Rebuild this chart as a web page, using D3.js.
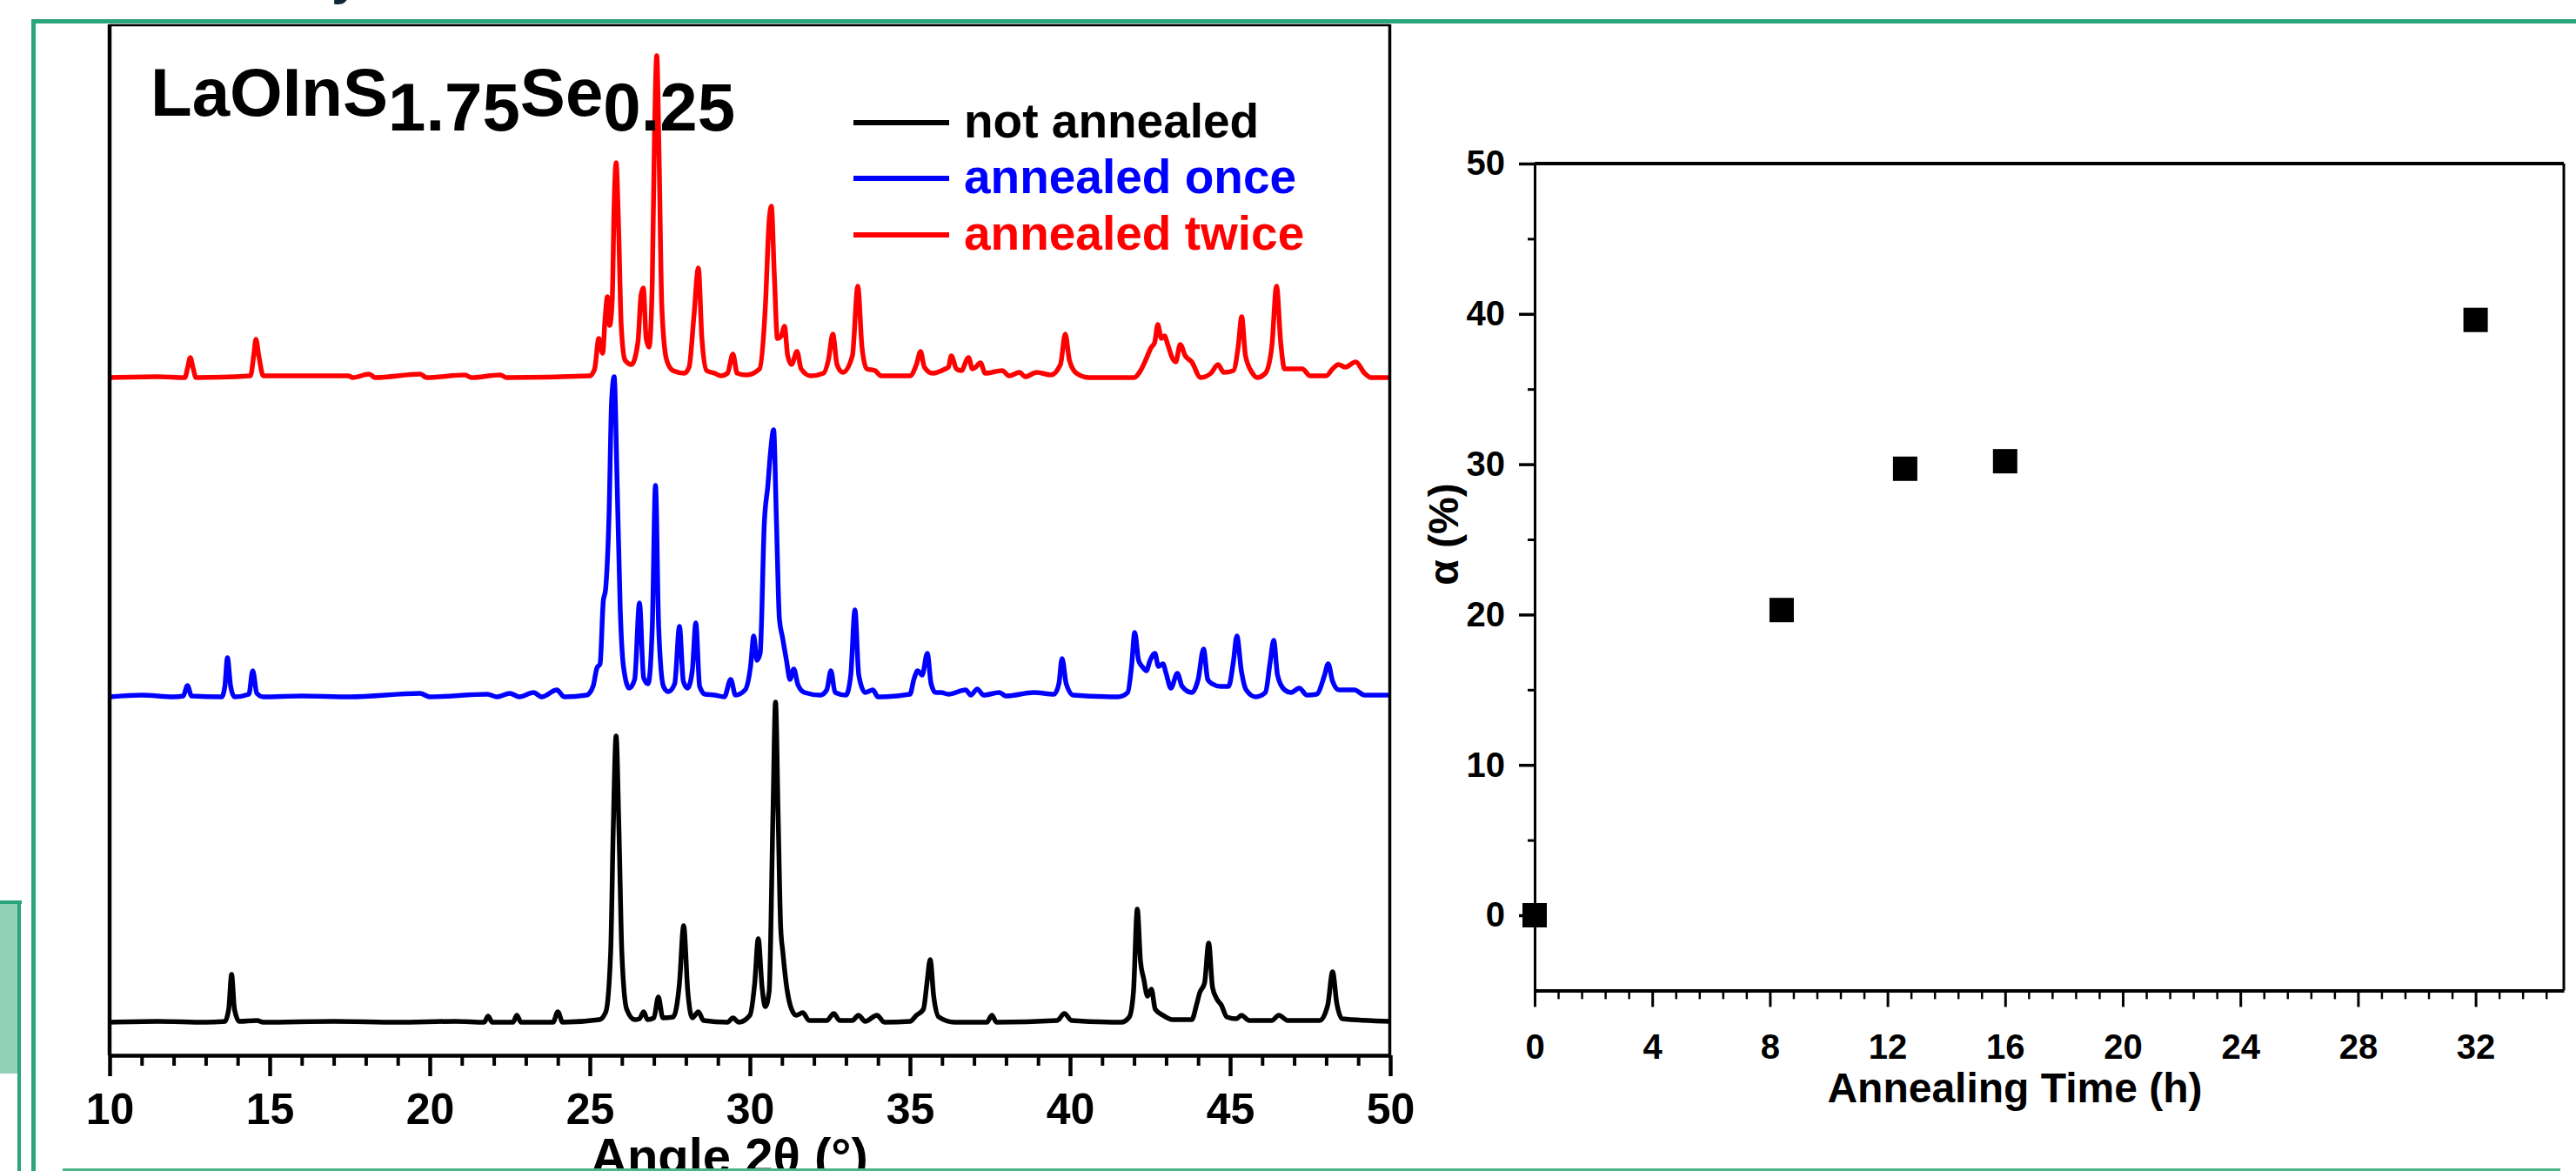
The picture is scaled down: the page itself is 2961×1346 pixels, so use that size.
<!DOCTYPE html>
<html>
<head>
<meta charset="utf-8">
<script src="https://cdn.jsdelivr.net/npm/d3@7"></script>
<style>
body { margin: 0; background: #fff; }
svg { display: block; font-family: "Liberation Sans", Arial, sans-serif; font-weight: bold; }
</style>
</head>
<body>
<svg width="2961" height="1346"></svg>
<script>
// ---- data: XRD patterns (2theta in degrees, intensity in a.u. above each trace's baseline)
let seriesNames = ["not annealed", "annealed once", "annealed twice"];
let seriesColors = ["#000000", "#0000ff", "#ff0000"];
let stackOffset = [38, 412, 779];

let notAnnealed = [[10,0],[11.5,1],[13.0,0],[13.6,1],[13.72,15],[13.81,55],[13.9,15],[14.05,1],[14.6,2],[14.8,0],[17.0,1],[19.0,0],[20.8,1],[21.7,0],[21.82,7],[21.95,0],[22.6,0],[22.72,8],[22.85,0],[23.85,0],[24.0,12],[24.15,0],[25.3,3],[25.5,12],[25.65,80],[25.73,220],[25.82,329],[25.91,220],[26.0,80],[26.15,15],[26.4,3],[26.55,4],[26.68,12],[26.8,3],[27.0,5],[27.14,29],[27.28,5],[27.6,6],[27.8,45],[27.93,111],[28.06,35],[28.2,5],[28.39,12],[28.55,2],[29.3,0],[29.47,5],[29.65,0],[30.0,8],[30.15,45],[30.26,96],[30.38,40],[30.48,18],[30.6,35],[30.72,240],[30.8,368],[30.88,240],[30.96,110],[31.03,80],[31.15,40],[31.3,15],[31.45,8],[31.65,11],[31.85,2],[32.4,2],[32.62,10],[32.8,2],[33.2,2],[33.39,8],[33.6,1],[33.97,8],[34.2,0],[35.0,1],[35.2,8],[35.42,15],[35.53,45],[35.63,72],[35.74,30],[35.9,6],[36.4,0],[37.4,0],[37.56,8],[37.7,0],[39.6,2],[39.82,10],[40.05,2],[41.6,0],[41.85,6],[41.98,35],[42.1,130],[42.2,70],[42.3,50],[42.42,30],[42.54,38],[42.66,15],[42.9,8],[43.2,3],[43.8,3],[43.95,20],[44.05,34],[44.2,45],[44.33,91],[44.45,40],[44.58,27],[44.72,20],[44.9,6],[45.2,4],[45.35,8],[45.6,2],[46.3,2],[46.52,8],[46.8,2],[47.8,2],[48.05,20],[48.2,58],[48.33,22],[48.5,4],[50,1]];

let annealedOnce = [[10,0],[11,2],[12.0,0],[12.3,1],[12.43,13],[12.56,1],[13.5,0],[13.6,12],[13.68,45],[13.78,12],[13.9,0],[14.35,3],[14.47,30],[14.6,4],[14.8,0],[16.0,1],[17.5,0],[19.7,4],[20.0,0],[21.8,3],[22.1,0],[22.5,4],[22.8,0],[23.24,5],[23.5,0],[23.97,8],[24.2,0],[24.9,2],[25.1,12],[25.22,33],[25.32,38],[25.42,110],[25.49,123],[25.6,210],[25.68,340],[25.76,368],[25.85,250],[25.95,100],[26.05,35],[26.23,10],[26.4,20],[26.55,108],[26.68,22],[26.82,15],[26.95,80],[27.05,243],[27.15,80],[27.3,12],[27.45,6],[27.65,15],[27.8,81],[27.92,18],[28.05,10],[28.2,30],[28.31,85],[28.43,12],[28.6,3],[28.9,2],[29.2,0],[29.4,20],[29.55,2],[29.85,8],[30.02,35],[30.12,70],[30.22,42],[30.32,50],[30.45,200],[30.56,243],[30.64,280],[30.74,307],[30.83,200],[30.92,90],[31.02,68],[31.15,40],[31.25,20],[31.37,32],[31.5,14],[31.7,5],[32.2,2],[32.4,8],[32.53,30],[32.66,5],[33.0,2],[33.15,25],[33.28,100],[33.4,25],[33.6,5],[33.84,8],[34.0,0],[35.0,3],[35.12,20],[35.24,30],[35.38,25],[35.54,50],[35.66,15],[35.8,5],[35.97,5],[36.2,3],[36.74,8],[36.9,2],[37.1,9],[37.3,2],[37.79,5],[38.0,1],[38.87,5],[39.5,3],[39.65,15],[39.75,44],[39.88,15],[40.1,2],[41.5,0],[41.8,5],[41.92,35],[42.02,74],[42.14,42],[42.27,34],[42.38,30],[42.5,42],[42.65,50],[42.76,35],[42.9,38],[43.0,27],[43.15,10],[43.35,27],[43.5,12],[43.8,5],[44.0,20],[44.17,55],[44.3,20],[44.44,15],[44.7,12],[44.95,12],[45.1,40],[45.21,70],[45.35,30],[45.5,8],[45.8,0],[46.1,5],[46.25,40],[46.36,65],[46.48,25],[46.7,8],[46.9,5],[47.16,10],[47.4,2],[47.7,3],[47.95,25],[48.06,38],[48.2,18],[48.4,8],[48.88,8],[49.2,2],[50,2]];

let annealedTwice = [[10,0],[11.5,1],[12.35,0],[12.44,12],[12.52,23],[12.6,12],[12.7,0],[14.4,2],[14.5,25],[14.57,44],[14.66,25],[14.8,2],[17.45,2],[17.6,0],[18.1,4],[18.3,0],[19.7,4],[19.9,0],[21.1,3],[21.3,0],[22.2,3],[22.4,0],[25.0,2],[25.15,10],[25.28,45],[25.4,28],[25.48,70],[25.55,93],[25.62,60],[25.7,90],[25.76,200],[25.82,247],[25.9,170],[25.98,60],[26.1,20],[26.3,15],[26.5,40],[26.6,95],[26.67,103],[26.76,45],[26.85,35],[26.95,110],[27.02,280],[27.09,370],[27.16,260],[27.25,80],[27.4,20],[27.6,8],[27.95,5],[28.1,12],[28.25,70],[28.39,126],[28.5,45],[28.65,8],[28.9,5],[29.1,2],[29.3,5],[29.47,27],[29.6,5],[29.9,3],[30.3,10],[30.48,80],[30.6,180],[30.67,197],[30.76,120],[30.86,45],[30.98,48],[31.08,59],[31.18,25],[31.3,15],[31.47,30],[31.6,10],[31.9,2],[32.3,5],[32.45,20],[32.59,50],[32.72,15],[32.9,6],[33.2,25],[33.37,105],[33.5,35],[33.65,10],[33.91,8],[34.1,2],[35.0,2],[35.2,15],[35.33,30],[35.45,12],[35.7,5],[36.1,10],[36.2,12],[36.29,25],[36.45,10],[36.6,8],[36.83,23],[36.95,10],[37.05,12],[37.2,17],[37.35,5],[37.88,8],[38.1,2],[38.42,6],[38.6,1],[38.96,6],[39.4,3],[39.7,15],[39.85,50],[39.98,20],[40.2,5],[40.6,0],[42.0,0],[42.2,8],[42.36,20],[42.54,35],[42.64,40],[42.74,61],[42.85,45],[42.95,48],[43.05,38],[43.2,22],[43.3,18],[43.44,38],[43.6,25],[43.8,18],[44.08,0],[44.4,5],[44.62,15],[44.8,6],[45.1,8],[45.25,35],[45.36,70],[45.48,25],[45.7,5],[45.84,0],[46.1,5],[46.3,35],[46.45,105],[46.58,40],[46.7,10],[46.95,10],[47.25,10],[47.5,2],[48.0,2],[48.2,10],[48.38,15],[48.6,12],[48.92,18],[49.2,5],[49.4,0],[50,0]];

let angleTicks = [10, 15, 20, 25, 30, 35, 40, 45, 50];

// ---- data: conversion vs annealing time
let annealTime = [0, 8.4, 12.6, 16, 32];
let alphaPct = [0, 20.3, 29.7, 30.2, 39.6];
let timeTicks = [0, 4, 8, 12, 16, 20, 24, 28, 32];
let alphaTicks = [0, 10, 20, 30, 40, 50];

let svg = d3.select("svg");
let green = "#2ca57a";

// ================= left panel: XRD =================
let xL = d3.scaleLinear().domain([10, 50]).range([126, 1598]);
let yL = d3.scaleLinear().domain([0, 1184]).range([1213, 29]);

let traces = [notAnnealed, annealedOnce, annealedTwice];
let line = d3.line()
  .x(d => xL(d[0]))
  .y(d => d[1])
  .curve(d3.curveMonotoneX);

traces.forEach((tr, i) => {
  svg.append("path")
    .datum(tr.map(p => [p[0], yL(p[1] + stackOffset[i])]))
    .attr("fill", "none")
    .attr("stroke", seriesColors[i])
    .attr("stroke-width", 5.5)
    .attr("stroke-linejoin", "round")
    .attr("d", line);
});

// frame
svg.append("line").attr("x1", 126).attr("x2", 1598).attr("y1", 29).attr("y2", 29)
  .attr("stroke", "#000").attr("stroke-width", 2.5);
svg.append("line").attr("x1", 126).attr("x2", 126).attr("y1", 28).attr("y2", 1213)
  .attr("stroke", "#000").attr("stroke-width", 4.5);
svg.append("line").attr("x1", 1597.5).attr("x2", 1597.5).attr("y1", 28).attr("y2", 1213)
  .attr("stroke", "#000").attr("stroke-width", 3.5);

let gxMinor = svg.append("g").attr("transform", "translate(0,1213)")
  .call(d3.axisBottom(xL)
    .tickValues(d3.range(11, 50).filter(d => d % 5 !== 0))
    .tickSize(12).tickSizeOuter(0).tickFormat(""));
gxMinor.select(".domain").remove();
gxMinor.selectAll(".tick line").attr("stroke-width", 4);

let gxL = svg.append("g").attr("transform", "translate(0,1213)")
  .call(d3.axisBottom(xL).tickValues(angleTicks).tickSize(24).tickSizeOuter(0).tickPadding(19));
gxL.select(".domain").attr("stroke-width", 4.5);
gxL.selectAll(".tick line").attr("stroke-width", 4.5);
gxL.selectAll(".tick text")
  .attr("font-family", "'Liberation Sans', Arial, sans-serif")
  .attr("font-weight", "bold").attr("font-size", 50).attr("fill", "#000");

svg.append("text").attr("x", 679).attr("y", 1349)
  .attr("font-size", 58).text("Angle 2θ (°)");

// sample title
let title = svg.append("text").attr("x", 173).attr("y", 133).attr("font-size", 78);
title.append("tspan").text("LaOInS");
title.append("tspan").attr("dy", 17).text("1.75");
title.append("tspan").attr("dy", -17).text("Se");
title.append("tspan").attr("dy", 17).text("0.25");

// legend
let legendY = [141, 205, 270];
seriesNames.forEach((name, i) => {
  svg.append("line").attr("x1", 981).attr("x2", 1091)
    .attr("y1", legendY[i]).attr("y2", legendY[i])
    .attr("stroke", seriesColors[i]).attr("stroke-width", 6);
  svg.append("text").attr("x", 1108).attr("y", legendY[i] + 17)
    .attr("font-size", 55).attr("fill", seriesColors[i]).text(name);
});

// ================= right panel: alpha vs time =================
let xR = d3.scaleLinear().domain([0, 35]).range([1764, 2947]);
let yR = d3.scaleLinear().domain([-5, 50]).range([1138.4, 188]);

// frame top / right
svg.append("line").attr("x1", 1764).attr("x2", 2947).attr("y1", yR(50)).attr("y2", yR(50))
  .attr("stroke", "#000").attr("stroke-width", 4);
svg.append("line").attr("x1", 2947).attr("x2", 2947).attr("y1", yR(50)).attr("y2", yR(-5))
  .attr("stroke", "#000").attr("stroke-width", 3);

let gxRMinor = svg.append("g").attr("transform", `translate(0,${yR(-5)})`)
  .call(d3.axisBottom(xR)
    .tickValues(d3.range(0, 44).filter(i => i % 5 !== 0).map(i => i * 0.8))
    .tickSize(10).tickSizeOuter(0).tickFormat(""));
gxRMinor.select(".domain").remove();
gxRMinor.selectAll(".tick line").attr("stroke-width", 2.5);

let gxR = svg.append("g").attr("transform", `translate(0,${yR(-5)})`)
  .call(d3.axisBottom(xR).tickValues(timeTicks).tickSize(19).tickSizeOuter(0).tickPadding(31));
gxR.select(".domain").attr("stroke-width", 4);
gxR.selectAll(".tick line").attr("stroke-width", 3);

let gyRMinor = svg.append("g").attr("transform", `translate(${xR(0)},0)`)
  .call(d3.axisLeft(yR).tickValues([5, 15, 25, 35, 45]).tickSize(8).tickSizeOuter(0).tickFormat(""));
gyRMinor.select(".domain").remove();
gyRMinor.selectAll(".tick line").attr("stroke-width", 3);

let gyR = svg.append("g").attr("transform", `translate(${xR(0)},0)`)
  .call(d3.axisLeft(yR).tickValues(alphaTicks).tickSize(18).tickSizeOuter(0).tickPadding(16));
gyR.select(".domain").attr("stroke-width", 3);
gyR.selectAll(".tick line").attr("stroke-width", 3.5);

svg.selectAll(".tick text")
  .filter(function () { return !this.getAttribute("font-size"); })
  .attr("font-family", "'Liberation Sans', Arial, sans-serif")
  .attr("font-weight", "bold").attr("font-size", 40).attr("fill", "#000");

svg.selectAll(".marker")
  .data(annealTime.map((t, i) => [t, alphaPct[i]]))
  .enter().append("rect")
  .attr("class", "marker")
  .attr("x", d => xR(d[0]) - 14)
  .attr("y", d => yR(d[1]) - 14)
  .attr("width", 28).attr("height", 28)
  .attr("fill", "#000");

svg.append("text").attr("x", 2316).attr("y", 1267)
  .attr("text-anchor", "middle").attr("font-size", 48).text("Annealing Time (h)");
svg.append("text")
  .attr("transform", "translate(1676,614) rotate(-90)")
  .attr("text-anchor", "middle").attr("font-size", 48).text("α (%)");

// ================= slide decoration =================
svg.append("text").attr("x", 381).attr("y", -7).attr("font-size", 60).attr("fill", "#0e2a3a").text("y");
svg.append("rect").attr("x", 36).attr("y", 22).attr("width", 2925).attr("height", 5).attr("fill", green);
svg.append("rect").attr("x", 36).attr("y", 22).attr("width", 5).attr("height", 1324).attr("fill", green);
svg.append("rect").attr("x", 0).attr("y", 1037).attr("width", 21).attr("height", 197).attr("fill", "#93d1b7");
svg.append("rect").attr("x", 0).attr("y", 1035).attr("width", 25).attr("height", 4).attr("fill", green);
svg.append("rect").attr("x", 20).attr("y", 1035).attr("width", 4).attr("height", 311).attr("fill", green);
svg.append("rect").attr("x", 72).attr("y", 1343).attr("width", 2871).attr("height", 3).attr("fill", "#4db38a");
</script>
</body>
</html>
